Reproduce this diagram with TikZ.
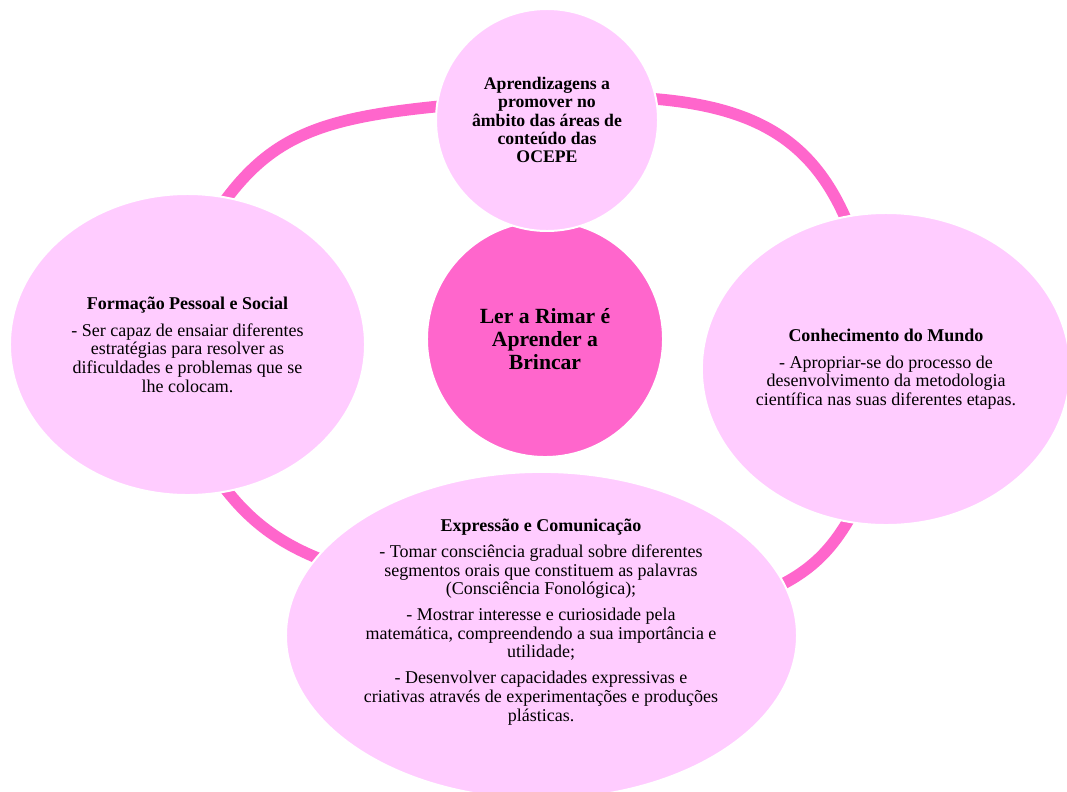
\documentclass[tikz,border=0pt]{standalone}
\usepackage{fontspec}
\setmainfont{Liberation Serif}
\usetikzlibrary{shapes.geometric}
\definecolor{lightpink}{HTML}{FFCCFF}
\definecolor{hotpink}{HTML}{FF66CC}
\pgfdeclarelayer{back}
\pgfdeclarelayer{bg}
\pgfsetlayers{back,bg,main}
\begin{document}
\begin{tikzpicture}[x=0.025cm,y=-0.025cm,
  bubble/.style={ellipse, fill=lightpink, draw=white, line width=1.4pt, inner sep=0pt, outer sep=0pt,
    align=center, text=black, font=\fontsize{12.8}{13.3}\selectfont},
  hub/.style={circle, fill=hotpink, draw=white, line width=1.4pt, inner sep=0pt, outer sep=0pt,
    align=center, text=black, font=\fontsize{15.4}{16.1}\selectfont\bfseries},
  bodytext/.style={align=center, text=black, inner sep=0pt, font=\fontsize{12.8}{13.3}\selectfont},
  ring/.style={draw=hotpink, line width=0.29cm, shorten <=-10pt, shorten >=-10pt}]
\useasboundingbox (0,0) rectangle (1067,791);
\clip (0,0) rectangle (1067,791);
\begin{pgfonlayer}{back}
\fill[white] (0,0) rectangle (1067,791);
\end{pgfonlayer}

\node[hub, minimum size={236*0.025cm}] (hub) at (545,339) {Ler a Rimar é\\Aprender a\\Brincar};

\node[bubble, circle, minimum size={222*0.025cm}, font=\fontsize{12.6}{13.1}\selectfont\bfseries] (top) at (547,120)
  {Aprendizagens a\\promover no\\âmbito das áreas de\\conteúdo das\\OCEPE};

\node[bubble, minimum width={355*0.025cm}, minimum height={301*0.025cm}] (left) at (187.5,344.5)
  {\textbf{Formação  Pessoal e Social}\\[6pt]
   - Ser capaz de ensaiar diferentes\\
   estratégias para resolver as\\
   dificuldades e problemas que se\\
   lhe colocam.};

\node[bubble, minimum width={362*0.025cm}, minimum height={312*0.025cm}] (right) at (886,369)
  {\textbf{Conhecimento do Mundo}\\[6pt]
   - Apropriar-se do processo de\\
   desenvolvimento da metodologia\\
   científica nas suas diferentes etapas.};

\node[bubble, minimum width={511*0.025cm}, minimum height={327*0.025cm}] (bottom) at (541.5,635.4) {};
\node[bodytext] (bottomtext) at (541,622)
  {\textbf{Expressão e Comunicação}\\[5pt]
   - Tomar consciência gradual sobre diferentes\\
   segmentos orais que constituem as palavras\\
   (Consciência Fonológica);\\[5pt]
   - Mostrar interesse e curiosidade pela\\
   matemática, compreendendo a sua importância e\\
   utilidade;\\[5pt]
   - Desenvolver capacidades expressivas e\\
   criativas através de experimentações e produções\\
   plásticas.};

\begin{pgfonlayer}{bg}
\draw[ring] (top.173) .. controls (323,117) and (271,134) .. (left.75);
\draw[ring] (top.11) .. controls (758,105) and (816,142) .. (right.105);
\draw[ring] (left.-75) .. controls (248,521) and (281,545) .. (bottom.161);
\draw[ring] (right.256) .. controls (834,547) and (814,570) .. (bottom.12);
\end{pgfonlayer}
\end{tikzpicture}
\end{document}
